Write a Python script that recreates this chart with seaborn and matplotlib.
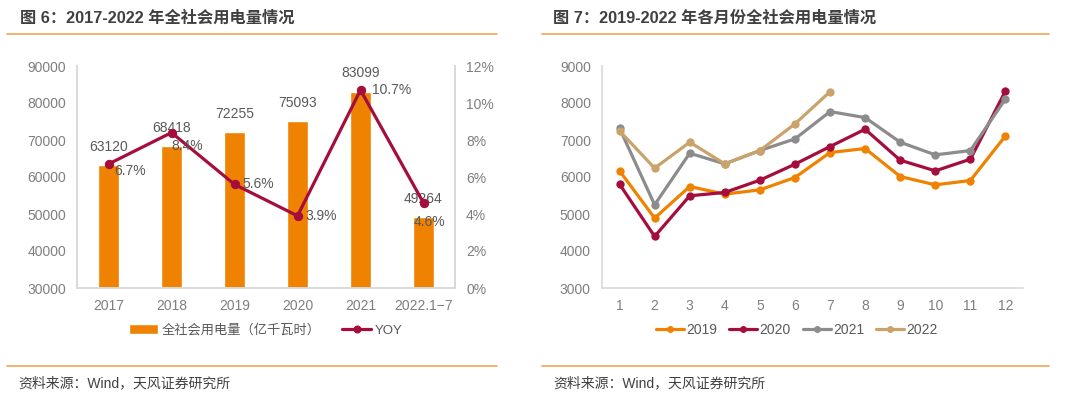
import matplotlib
matplotlib.use("Agg")
import matplotlib.pyplot as plt
from matplotlib.lines import Line2D
from matplotlib.ticker import FixedLocator, FuncFormatter
import seaborn as sns
import pandas as pd
import numpy as np

# ---------------- data ----------------
years = ["2017", "2018", "2019", "2020", "2021", "2022.1−7"]
consumption = [63120, 68418, 72255, 75093, 83099, 49264]
yoy = [6.7, 8.4, 5.6, 3.9, 10.7, 4.6]

months = [1, 2, 3, 4, 5, 6, 7, 8, 9, 10, 11, 12]
m2019 = [6166, 4889, 5743, 5537, 5653, 5986, 6661, 6769, 6013, 5788, 5905, 7111]
m2020 = [5806, 4394, 5492, 5582, 5914, 6346, 6823, 7291, 6454, 6166, 6481, 8325]
m2021 = [7318, 5249, 6643, 6355, 6715, 7030, 7768, 7606, 6940, 6598, 6715, 8109]
m2022 = [7246, 6238, 6940, 6355, 6715, 7435, 8307]

# label offsets (points) for the YOY labels, style only
yoy_label_offsets = [(4, -5), (0, -10), (6, 0), (6, 0), (8, 0), (-7, -14)]

sns.set_theme(style="white")
plt.rcParams["font.family"] = ["Liberation Sans", "Noto Sans CJK SC", "DejaVu Sans"]

ORANGE = "#EF8200"
RED = "#A50D3C"
GRAY = "#8C8C8C"
TAN = "#C9A36A"
TICK = "#7F7F7F"
SPINE = "#D9D9D9"
LABEL = "#595959"
SEP = "#F5A455"

fig = plt.figure(figsize=(10.8, 4.01), dpi=100)
fig.patch.set_facecolor("white")

# ---------------- left chart ----------------
df1 = pd.DataFrame({"year": years, "cons": consumption, "yoy": yoy})
ax = fig.add_axes([77 / 1080, 1 - 288 / 401, 378 / 1080, 222 / 401])
sns.barplot(data=df1, x="year", y="cons", color=ORANGE, width=0.32,
            saturation=1, ax=ax, label="全社会用电量（亿千瓦时）")
ax.set_ylim(30000, 90000)
ax.set_xlim(-0.5, len(years) - 0.5)
ax.yaxis.set_major_locator(FixedLocator(np.arange(30000, 90001, 10000)))
ax.set_xlabel("")
ax.set_ylabel("")

ax2 = ax.twinx()
sns.lineplot(data=df1, x="year", y="yoy", color=RED, linewidth=2.3,
             marker="o", markersize=6, markeredgecolor=RED, ax=ax2,
             label="YOY", legend=False)
ax2.set_ylim(0, 12)
ax2.yaxis.set_major_locator(FixedLocator(np.arange(0, 12.1, 2)))
ax2.yaxis.set_major_formatter(FuncFormatter(lambda v, p: f"{v:.0f}%"))
ax2.set_ylabel("")
ax2.set_xlim(-0.5, len(years) - 0.5)

for a in (ax, ax2):
    for s in a.spines.values():
        s.set_color(SPINE)
        s.set_linewidth(1.2)
    a.spines["top"].set_visible(False)
    a.tick_params(axis="y", length=0, labelsize=10, labelcolor=TICK, pad=8)
ax.tick_params(axis="x", length=0, labelsize=10, labelcolor=TICK, pad=8)
ax.set_xticks(np.arange(-0.5, len(years), 1.0), minor=True)
ax.tick_params(axis="x", which="minor", length=4, color=SPINE, width=1.2)

for i, (v, y) in enumerate(zip(consumption, yoy)):
    ax.annotate(f"{v}", (i, v), xytext=(0, 8), textcoords="offset points",
                ha="center", va="bottom", fontsize=10, color=LABEL)
    dx, dy = yoy_label_offsets[i]
    ax2.annotate(f"{y:.1f}%", (i, y), xytext=(dx, dy), textcoords="offset points",
                 ha="left", va="center", fontsize=10, color=LABEL)

h1, l1 = ax.get_legend_handles_labels()
h2, l2 = ax2.get_legend_handles_labels()
leg1 = ax.legend(h1 + h2, l1 + l2, loc="center", bbox_to_anchor=(0.5, -0.19),
                 ncol=2, frameon=False, fontsize=9.5, labelcolor=LABEL,
                 handlelength=2.2, handletextpad=0.3, columnspacing=1.6)
for h in leg1.legend_handles:
    if isinstance(h, Line2D):
        h.set_markersize(5)

# ---------------- right chart ----------------
rows = []
for name, vals in (("2019", m2019), ("2020", m2020), ("2021", m2021), ("2022", m2022)):
    for m, v in zip(months, vals):
        rows.append({"month": m, "value": v, "year": name})
df2 = pd.DataFrame(rows)

bx = fig.add_axes([602 / 1080, 1 - 288 / 401, 421 / 1080, 222 / 401])
sns.lineplot(data=df2, x="month", y="value", hue="year",
             palette=[ORANGE, RED, GRAY, TAN], linewidth=2.3, marker="o",
             markersize=6, markeredgewidth=0, ax=bx)
for ln, c in zip(bx.lines, [ORANGE, RED, GRAY, TAN]):
    ln.set_markeredgecolor(c)
bx.set_xlim(0.5, 12.5)
bx.set_ylim(3000, 9000)
bx.set_xticks(months)
bx.set_xticks(np.arange(0.5, 12.6, 1.0), minor=True)
bx.yaxis.set_major_locator(FixedLocator(np.arange(3000, 9001, 1000)))
bx.set_xlabel("")
bx.set_ylabel("")
for s in ("top", "right"):
    bx.spines[s].set_visible(False)
for s in ("left", "bottom"):
    bx.spines[s].set_color(SPINE)
    bx.spines[s].set_linewidth(1.2)
bx.tick_params(axis="y", length=0, labelsize=10, labelcolor=TICK, pad=8)
bx.tick_params(axis="x", which="major", length=0, labelsize=10, labelcolor=TICK, pad=8)
bx.tick_params(axis="x", which="minor", length=4, color=SPINE, width=1.2)
leg = bx.legend(loc="center", bbox_to_anchor=(0.463, -0.19), ncol=4,
                frameon=False, fontsize=10, labelcolor=LABEL, handlelength=2.0,
                handletextpad=0.15, columnspacing=0.9, title=None)
for h in leg.legend_handles:
    h.set_markersize(5)

# ---------------- titles, separators, sources ----------------
fig.text(20 / 1080, 1 - 18 / 401, "图 6：2017-2022 年全社会用电量情况", fontsize=11.7,
         fontweight="bold", color="#404040", va="center", ha="left")
fig.text(553 / 1080, 1 - 18 / 401, "图 7：2019-2022 年各月份全社会用电量情况", fontsize=11.7,
         fontweight="bold", color="#404040", va="center", ha="left")
for x0, x1 in ((7, 497), (542, 1049)):
    for yy in (34, 366):
        fig.add_artist(Line2D([x0 / 1080, x1 / 1080], [1 - yy / 401, 1 - yy / 401],
                              color=SEP, linewidth=1.2, transform=fig.transFigure))
fig.text(18 / 1080, 1 - 383 / 401, "资料来源：Wind，天风证券研究所", fontsize=10,
         color="#404040", va="center", ha="left")
fig.text(553 / 1080, 1 - 383 / 401, "资料来源：Wind，天风证券研究所", fontsize=10,
         color="#404040", va="center", ha="left")

fig.savefig("out.png", dpi=100, facecolor="white")
